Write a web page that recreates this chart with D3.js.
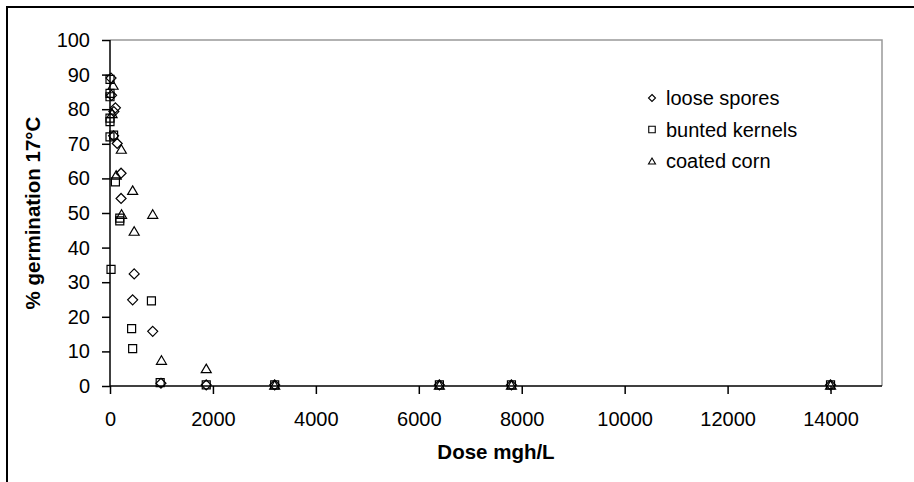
<!DOCTYPE html>
<html>
<head>
<meta charset="utf-8">
<script src="https://cdn.jsdelivr.net/npm/d3@7/dist/d3.min.js"></script>
<style>
  html, body { margin: 0; padding: 0; background: #fff; }
  svg { display: block; font-family: "Liberation Sans", Arial, sans-serif; }
</style>
</head>
<body>
<svg id="chart" width="914" height="482"></svg>
<script>
// Germination (%) at 17°C against fumigant dose (mgh/L)
const seriesNames = ["loose spores", "bunted kernels", "coated corn"];

const looseDose = [20, 30, 105, 75, 70, 140, 215, 215, 470, 440, 830, 990, 1870, 3200, 6400, 7800, 14000];
const looseGerm = [89, 84, 80.4, 79.3, 72.3, 70.1, 61.5, 54.2, 32.4, 24.9, 15.8, 0.8, 0.3, 0.3, 0.3, 0.3, 0.3];

const buntedDose = [0, 0, 0, 0, 0, 0, 70, 105, 190, 190, 20, 805, 420, 440, 975, 1870, 3200, 6400, 7800, 14000];
const buntedGerm = [88.6, 84.6, 83.6, 77.4, 76.4, 72, 72.5, 59, 48.5, 47.7, 33.7, 24.6, 16.6, 10.8, 1, 0.3, 0.3, 0.3, 0.3, 0.3];

const coatedDose = [60, 40, 220, 120, 440, 225, 830, 470, 1000, 1870, 3200, 6400, 7800, 14000];
const coatedGerm = [87, 78.8, 68.5, 61, 56.6, 49.7, 49.7, 44.8, 7.5, 5.1, 0.3, 0.3, 0.3, 0.3];

const xTicks = [0, 2000, 4000, 6000, 8000, 10000, 12000, 14000];
const yTicks = [0, 10, 20, 30, 40, 50, 60, 70, 80, 90, 100];

const svg = d3.select("#chart");
const W = 914, H = 482;

// outer chart frame
svg.append("rect")
  .attr("x", 7).attr("y", 7).attr("width", W).attr("height", H)
  .attr("fill", "none").attr("stroke", "#000").attr("stroke-width", 2);

const m = { left: 110, top: 40, right: 882, bottom: 386 };
const x = d3.scaleLinear().domain([0, 15000]).range([m.left, m.right]);
const y = d3.scaleLinear().domain([0, 100]).range([m.bottom, m.top]);

// plot area border (top and right)
svg.append("path")
  .attr("d", `M${m.left},${m.top}H${m.right}V${m.bottom}`)
  .attr("fill", "none").attr("stroke", "#999").attr("stroke-width", 1.5);

const fontSize = 20;

// y axis
const gy = svg.append("g").attr("transform", `translate(${m.left},0)`)
  .call(d3.axisLeft(y).tickValues(yTicks).tickSize(8).tickPadding(12).tickFormat(d3.format("d")));
// x axis
const gx = svg.append("g").attr("transform", `translate(0,${m.bottom})`)
  .call(d3.axisBottom(x).tickValues(xTicks).tickSize(8).tickPadding(17.5).tickFormat(d3.format("d")));

[gx, gy].forEach(g => {
  g.select(".domain").attr("stroke", "#000").attr("stroke-width", 1.5);
  g.selectAll(".tick line").attr("stroke", "#000").attr("stroke-width", 1.5);
  g.selectAll(".tick text").attr("fill", "#000")
    .style("font-family", "'Liberation Sans', Arial, sans-serif")
    .style("font-size", fontSize + "px");
});
gx.select(".domain").attr("d", `M${m.left},0H${m.right}`);
gy.select(".domain").attr("d", `M0,${m.bottom}V${m.top}`);

// axis titles
svg.append("text")
  .attr("x", (m.left + m.right) / 2).attr("y", 459)
  .attr("text-anchor", "middle")
  .style("font-weight", "bold").style("font-size", "20.5px")
  .text("Dose mgh/L");

svg.append("text")
  .attr("transform", `translate(40,${(m.top + m.bottom) / 2}) rotate(-90)`)
  .attr("text-anchor", "middle")
  .style("font-weight", "bold").style("font-size", "20.5px")
  .text("% germination 17°C");

// marker shapes
function diamondPath(s) { const h = s / 2; return `M0,${-h}L${h},0L0,${h}L${-h},0Z`; }
function squarePath(s) { const h = s / 2; return `M${-h},${-h}H${h}V${h}H${-h}Z`; }
function trianglePath(s) { const h = s / 2; return `M0,${-h * 0.85}L${h},${h * 0.85}L${-h},${h * 0.85}Z`; }
const shapes = [diamondPath, squarePath, trianglePath];

const series = [
  { dose: looseDose, germ: looseGerm },
  { dose: buntedDose, germ: buntedGerm },
  { dose: coatedDose, germ: coatedGerm }
];
const markerSize = [10, 8, 10];

series.forEach((s, i) => {
  const pts = s.dose.map((d, k) => [d, s.germ[k]]);
  svg.append("g").selectAll("path").data(pts).join("path")
    .attr("transform", d => `translate(${x(d[0])},${y(d[1])})`)
    .attr("d", shapes[i](markerSize[i]))
    .attr("fill", "none").attr("stroke", "#000").attr("stroke-width", 1.2);
});

// legend
const legend = svg.append("g").attr("transform", "translate(652,98)");
seriesNames.forEach((name, i) => {
  const g = legend.append("g").attr("transform", `translate(0,${i * 31.5})`);
  g.append("path").attr("d", shapes[i](i === 1 ? 6.5 : 7))
    .attr("fill", "none").attr("stroke", "#000").attr("stroke-width", 1.1);
  g.append("text").attr("x", 14).attr("y", 0).attr("dy", "0.36em")
    .style("font-size", fontSize + "px").text(name);
});
</script>
</body>
</html>
